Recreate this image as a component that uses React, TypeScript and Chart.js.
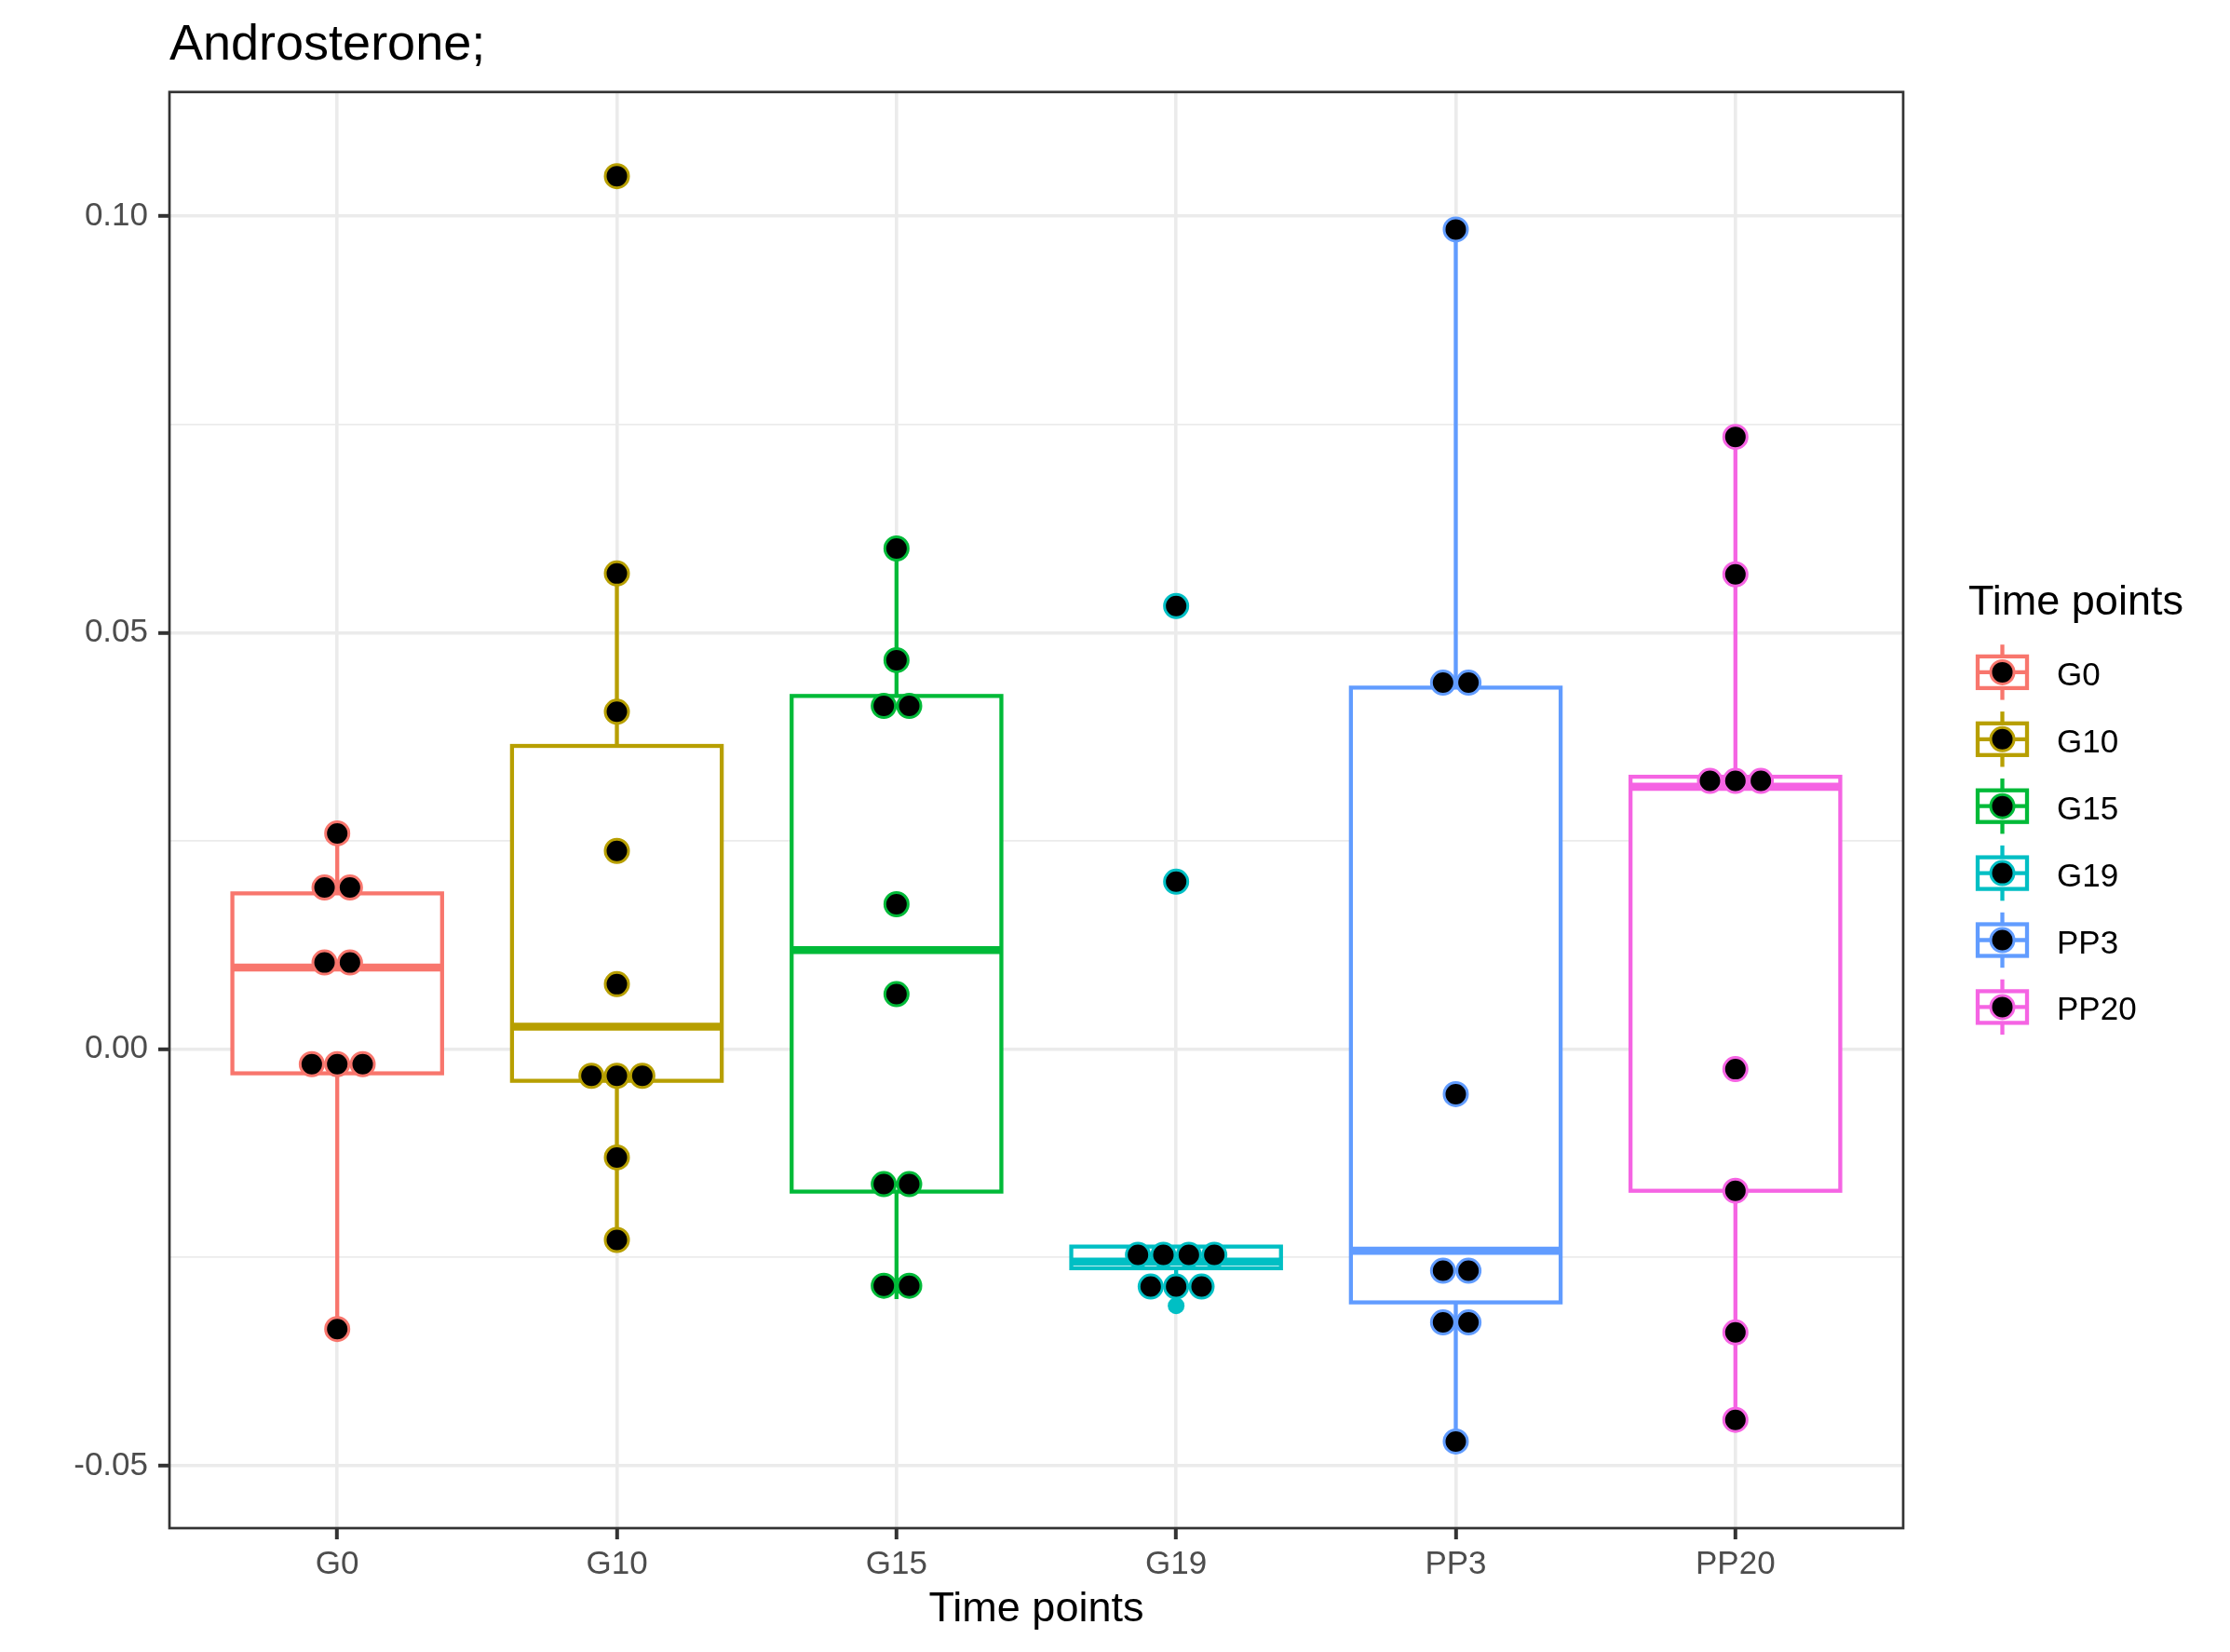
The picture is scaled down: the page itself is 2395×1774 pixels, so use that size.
import React, { useEffect, useRef } from 'react';
import { Chart, registerables } from 'chart.js';

Chart.register(...registerables);

const FONT = '"Liberation Sans", Arial, Helvetica, sans-serif';

const categories = ['G0', 'G10', 'G15', 'G19', 'PP3', 'PP20'];
const groupColors = ['#F8766D', '#B79F00', '#00BA38', '#00BFC4', '#619CFF', '#F564E3'];

// boxplot statistics per category
const whiskerLow = [-0.0336, -0.0229, -0.03, -0.0285, -0.0471, -0.0445];
const boxQ1 = [-0.0029, -0.0038, -0.0171, -0.0263, -0.0304, -0.017];
const boxMedian = [0.0098, 0.0027, 0.0119, -0.0255, -0.0242, 0.0315];
const boxQ3 = [0.0187, 0.0364, 0.0424, -0.0237, 0.0434, 0.0327];
const whiskerHigh = [0.0259, 0.0571, 0.0601, -0.0237, 0.0984, 0.0735];

// boxplot outliers per category
const outliersG0: number[] = [];
const outliersG10 = [0.1048];
const outliersG15: number[] = [];
const outliersG19 = [0.0533, 0.0202, -0.0308];
const outliersPP3: number[] = [];
const outliersPP20: number[] = [];

// dot plot values (binned) per category
const dotsG0 = [0.0259, 0.0194, 0.0194, 0.0104, 0.0104, -0.0018, -0.0018, -0.0018, -0.0336];
const dotsG10 = [0.1048, 0.0571, 0.0405, 0.0238, 0.0078, -0.0032, -0.0032, -0.0032, -0.013, -0.0229];
const dotsG15 = [0.0601, 0.0467, 0.0412, 0.0412, 0.0174, 0.0066, -0.0162, -0.0162, -0.0284, -0.0284];
const dotsG19 = [0.0532, 0.0201, -0.0247, -0.0247, -0.0247, -0.0247, -0.0285, -0.0285, -0.0285];
const dotsPP3 = [0.0984, 0.044, 0.044, -0.0054, -0.0266, -0.0266, -0.0328, -0.0328, -0.0471];
const dotsPP20 = [0.0735, 0.057, 0.0322, 0.0322, 0.0322, -0.0024, -0.017, -0.034, -0.0445];

const yTickValues = [-0.05, -0.025, 0, 0.025, 0.05, 0.075, 0.1];
const yMajorTicks = [-0.05, 0, 0.05, 0.1];
const yMin = -0.0575;
const yMax = 0.1149;

const titleText = 'Androsterone;';
const xTitleText = 'Time points';
const legendTitleText = 'Time points';

const outlierGroups = [outliersG0, outliersG10, outliersG15, outliersG19, outliersPP3, outliersPP20];
const dotGroups = [dotsG0, dotsG10, dotsG15, dotsG19, dotsPP3, dotsPP20];

const BOX_WIDTH = 0.75; // in category units
const DOT_STEP = 0.091; // horizontal stacking step in category units
const BOX_LW = 4.3;

const isMajor = (v: number) => yMajorTicks.some((m) => Math.abs(m - v) < 1e-9);

function dodge(values: number[], center: number) {
  const counts = new Map<number, number>();
  values.forEach((v) => counts.set(v, (counts.get(v) || 0) + 1));
  const seen = new Map<number, number>();
  return values.map((v) => {
    const n = counts.get(v) || 1;
    const k = seen.get(v) || 0;
    seen.set(v, k + 1);
    return { x: center + (k - (n - 1) / 2) * DOT_STEP, y: v };
  });
}

const boxPartsPlugin = {
  id: 'boxParts',
  beforeDatasetsDraw(chart: any) {
    const { ctx } = chart;
    const x = chart.scales.x;
    const y = chart.scales.y;
    ctx.save();
    ctx.lineWidth = BOX_LW;
    ctx.lineCap = 'butt';
    categories.forEach((_, i) => {
      const px = x.getPixelForValue(i + 1);
      ctx.strokeStyle = groupColors[i];
      ctx.beginPath();
      ctx.moveTo(px, y.getPixelForValue(boxQ3[i]));
      ctx.lineTo(px, y.getPixelForValue(whiskerHigh[i]));
      ctx.moveTo(px, y.getPixelForValue(boxQ1[i]));
      ctx.lineTo(px, y.getPixelForValue(whiskerLow[i]));
      ctx.stroke();
    });
    ctx.restore();
  },
  afterDatasetDraw(chart: any, args: any) {
    if (args.index !== 0) return;
    const { ctx } = chart;
    const x = chart.scales.x;
    const y = chart.scales.y;
    const meta = chart.getDatasetMeta(0);
    ctx.save();
    ctx.lineCap = 'butt';
    ctx.lineJoin = 'miter';
    categories.forEach((_, i) => {
      const bar: any = meta.data[i];
      const left = bar.x - bar.width / 2;
      const top = Math.min(bar.y, bar.base);
      const h = Math.abs(bar.base - bar.y);
      ctx.strokeStyle = groupColors[i];
      ctx.lineWidth = BOX_LW;
      ctx.strokeRect(left, top, bar.width, h);
      const py = y.getPixelForValue(boxMedian[i]);
      ctx.lineWidth = BOX_LW * 2;
      ctx.beginPath();
      ctx.moveTo(x.getPixelForValue(i + 1 - BOX_WIDTH / 2), py);
      ctx.lineTo(x.getPixelForValue(i + 1 + BOX_WIDTH / 2), py);
      ctx.stroke();
    });
    ctx.restore();
  },
  afterDatasetsDraw(chart: any) {
    const { ctx, chartArea } = chart;
    ctx.save();
    ctx.strokeStyle = '#333333';
    ctx.lineWidth = 2.7;
    ctx.strokeRect(chartArea.left, chartArea.top, chartArea.right - chartArea.left, chartArea.bottom - chartArea.top);
    ctx.restore();
  },
};

const legendPlugin = {
  id: 'ggLegend',
  afterDraw(chart: any) {
    const { ctx, chartArea } = chart;
    const midY = (chartArea.top + chartArea.bottom) / 2;
    const left = chartArea.right + 70;
    ctx.save();
    ctx.textAlign = 'left';
    ctx.textBaseline = 'alphabetic';
    ctx.fillStyle = '#000000';
    ctx.font = `45px ${FONT}`;
    ctx.fillText(legendTitleText, left, midY - 210);
    categories.forEach((label, i) => {
      const cy = midY - 148 + i * 71.9;
      const cx = left + 36.5;
      const color = groupColors[i];
      ctx.lineCap = 'butt';
      ctx.lineWidth = BOX_LW;
      ctx.strokeStyle = color;
      ctx.beginPath();
      ctx.moveTo(cx, cy - 29.7);
      ctx.lineTo(cx, cy + 29.7);
      ctx.stroke();
      ctx.fillStyle = '#FFFFFF';
      ctx.fillRect(cx - 26.5, cy - 17, 53, 34);
      ctx.strokeRect(cx - 26.5, cy - 17, 53, 34);
      ctx.beginPath();
      ctx.moveTo(cx - 26.5, cy);
      ctx.lineTo(cx + 26.5, cy);
      ctx.stroke();
      ctx.beginPath();
      ctx.arc(cx, cy, 12.5, 0, Math.PI * 2);
      ctx.fillStyle = '#000000';
      ctx.fill();
      ctx.lineWidth = 3;
      ctx.stroke();
      ctx.fillStyle = '#000000';
      ctx.font = `35px ${FONT}`;
      ctx.fillText(label, left + 95, cy + 14);
    });
    ctx.restore();
  },
};

export default function App() {
  const canvasRef = useRef<HTMLCanvasElement | null>(null);

  useEffect(() => {
    const canvas = canvasRef.current;
    if (!canvas) return;

    const boxDataset: any = {
      type: 'bar',
      label: 'box',
      data: categories.map((_, i) => ({ x: i + 1, y: [boxQ1[i], boxQ3[i]] })),
      backgroundColor: '#FFFFFF',
      borderWidth: 0,
      categoryPercentage: 1,
      barPercentage: BOX_WIDTH,
      order: 3,
    };

    const outlierPoints: any[] = [];
    const outlierColors: string[] = [];
    outlierGroups.forEach((vals, i) => {
      vals.forEach((v) => {
        outlierPoints.push({ x: i + 1, y: v });
        outlierColors.push(groupColors[i]);
      });
    });
    const outlierDataset: any = {
      type: 'scatter',
      label: 'outliers',
      data: outlierPoints,
      pointRadius: 9,
      pointBorderWidth: 0,
      pointBackgroundColor: outlierColors,
      pointBorderColor: outlierColors,
      order: 2,
    };

    const dotDatasets: any[] = dotGroups.map((vals, i) => ({
      type: 'scatter',
      label: categories[i],
      data: dodge(vals, i + 1),
      pointRadius: 12.5,
      pointBorderWidth: 3,
      pointBackgroundColor: '#000000',
      pointBorderColor: groupColors[i],
      order: 1,
    }));

    const chart = new Chart(canvas, {
      type: 'bar',
      data: { datasets: [boxDataset, outlierDataset, ...dotDatasets] },
      options: {
        responsive: false,
        maintainAspectRatio: false,
        animation: false,
        devicePixelRatio: 1,
        events: [],
        layout: { padding: { left: 0, right: 351, top: 0, bottom: 0 } },
        plugins: {
          legend: { display: false },
          tooltip: { enabled: false },
          title: {
            display: true,
            text: titleText,
            align: 'start',
            fullSize: false,
            color: '#000000',
            font: { size: 54, family: FONT, weight: 'normal' },
            padding: { top: 17, bottom: 17 },
          },
        },
        scales: {
          x: {
            type: 'linear',
            min: 0.4,
            max: 6.6,
            offset: false,
            afterBuildTicks: (s: any) => {
              s.ticks = categories.map((_, i) => ({ value: i + 1 }));
            },
            afterFit: (s: any) => {
              s.height = 133;
            },
            grid: {
              offset: false,
              color: '#EBEBEB',
              lineWidth: 3.6,
              drawTicks: true,
              tickLength: 12,
              tickColor: '#333333',
              tickWidth: 4,
            },
            border: { display: false },
            ticks: {
              autoSkip: false,
              maxRotation: 0,
              color: '#4D4D4D',
              padding: 6,
              font: { size: 35, family: FONT },
              callback: (v: any) => categories[Math.round(Number(v)) - 1] ?? '',
            },
            title: {
              display: true,
              text: xTitleText,
              color: '#000000',
              font: { size: 45, family: FONT },
              padding: { top: 0, bottom: 18 },
            },
          },
          y: {
            type: 'linear',
            min: yMin,
            max: yMax,
            afterBuildTicks: (s: any) => {
              s.ticks = yTickValues.map((v) => ({ value: v }));
            },
            afterFit: (s: any) => {
              s.width = 182;
            },
            grid: {
              color: '#EBEBEB',
              lineWidth: (c: any) => (c.tick && isMajor(c.tick.value) ? 3.6 : 1.8),
              drawTicks: true,
              tickLength: 12,
              tickColor: (c: any) => (c.tick && isMajor(c.tick.value) ? '#333333' : 'rgba(0,0,0,0)'),
              tickWidth: 4,
            },
            border: { display: false },
            ticks: {
              autoSkip: false,
              color: '#4D4D4D',
              padding: 11,
              font: { size: 35, family: FONT },
              callback: (v: any) => (isMajor(Number(v)) ? Number(v).toFixed(2) : ''),
            },
          },
        },
      } as any,
      plugins: [boxPartsPlugin, legendPlugin],
    });

    return () => {
      chart.destroy();
    };
  }, []);

  return (
    <div style={{ position: 'absolute', left: 0, top: 0, width: 2395, height: 1774, background: '#FFFFFF' }}>
      <canvas ref={canvasRef} width={2395} height={1774} style={{ display: 'block', width: 2395, height: 1774 }} />
    </div>
  );
}
